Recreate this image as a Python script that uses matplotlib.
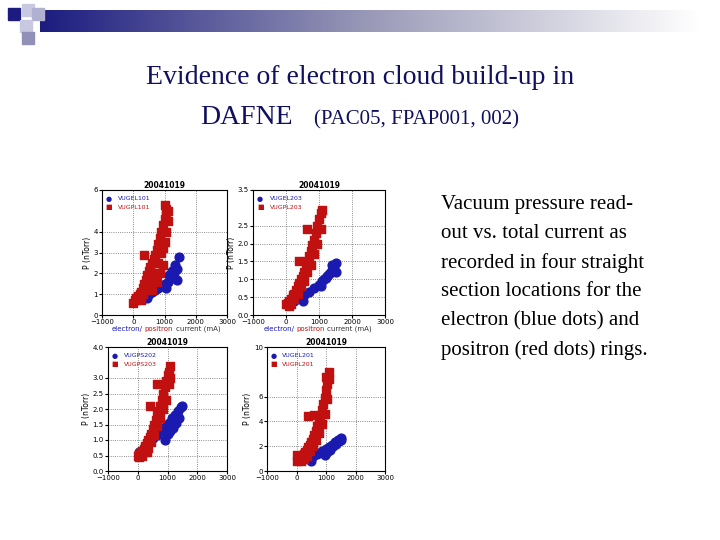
import numpy as np
import matplotlib.pyplot as plt
from matplotlib.patches import Rectangle

# hand-read point clouds (current mA, pressure nTorr)
tl_red_x = [0, 50, 100, 150, 200, 250, 300, 350, 400, 450, 500, 550, 600, 650, 700, 750, 800, 850, 900, 950, 1000, 1050, 1100,
            1050, 1000, 950, 900, 800, 700, 600, 500, 400, 300, 200, 100, 1000, 1050, 1100, 950, 850, 350, 600, 750, 250]
tl_red_y = [0.6, 0.7, 0.8, 0.9, 1.0, 1.1, 1.3, 1.5, 1.7, 1.9, 2.1, 2.3, 2.5, 2.7, 2.9, 3.1, 3.4, 3.7, 4.0, 4.3, 4.6, 4.9, 5.0,
            4.0, 3.5, 3.2, 3.0, 2.5, 2.0, 1.7, 1.5, 1.2, 1.0, 0.8, 0.7, 5.3, 5.1, 4.5, 2.4, 2.0, 2.9, 1.2, 1.6, 0.7]
tl_blue_x = [150, 300, 400, 500, 600, 700, 800, 900, 1000, 1100, 1200, 1300, 1400, 1450, 1350, 1250, 1150, 450, 1050, 1400]
tl_blue_y = [0.9, 0.9, 1.0, 1.0, 1.1, 1.2, 1.3, 1.4, 1.5, 1.6, 1.8, 2.0, 2.2, 2.8, 2.4, 2.1, 1.9, 0.8, 1.3, 1.7]

tr_red_x = [0, 50, 100, 150, 200, 250, 300, 350, 400, 450, 500, 550, 600, 650, 700, 750, 800, 850, 900, 950, 1000, 1050, 1100,
            1050, 950, 850, 750, 650, 550, 450, 350, 250, 150, 100, 650, 400, 200]
tr_red_y = [0.3, 0.35, 0.4, 0.45, 0.5, 0.6, 0.7, 0.8, 0.9, 1.0, 1.1, 1.2, 1.35, 1.5, 1.65, 1.8, 1.95, 2.1, 2.3, 2.5, 2.7, 2.85, 2.95,
            2.4, 2.0, 1.7, 1.4, 1.2, 0.95, 0.8, 0.6, 0.45, 0.3, 0.25, 2.4, 1.5, 0.55]
tr_blue_x = [100, 250, 400, 550, 700, 850, 1000, 1100, 1200, 1300, 1400, 1500, 1450, 1350, 1250, 1150, 1050, 500, 1500, 1400]
tr_blue_y = [0.35, 0.4, 0.5, 0.55, 0.65, 0.75, 0.85, 0.95, 1.05, 1.15, 1.25, 1.45, 1.3, 1.2, 1.1, 1.0, 0.8, 0.4, 1.2, 1.4]

bl_red_x = [0, 50, 100, 150, 200, 250, 300, 350, 400, 450, 500, 550, 600, 650, 700, 750, 800, 850, 900, 950, 1000, 1050, 1100,
            1050, 950, 850, 750, 650, 550, 450, 350, 250, 150, 50, 650, 400, 300, 1100]
bl_red_y = [0.5, 0.55, 0.6, 0.65, 0.7, 0.8, 0.9, 1.0, 1.1, 1.2, 1.35, 1.5, 1.65, 1.8, 1.95, 2.1, 2.3, 2.5, 2.7, 2.9, 3.1, 3.2, 3.4,
            2.8, 2.3, 2.0, 1.7, 1.45, 1.15, 0.95, 0.75, 0.6, 0.5, 0.45, 2.8, 2.1, 0.6, 3.0]
bl_blue_x = [50, 200, 350, 500, 650, 800, 950, 1050, 1150, 1250, 1350, 1450, 1500, 1400, 1300, 1200, 1100, 1000, 900, 300]
bl_blue_y = [0.6, 0.75, 0.9, 1.05, 1.15, 1.3, 1.45, 1.55, 1.7, 1.8, 1.95, 2.05, 2.1, 1.7, 1.55, 1.4, 1.3, 1.2, 1.0, 0.7]

br_red_x = [0, 50, 100, 150, 200, 250, 300, 350, 400, 450, 500, 550, 600, 650, 700, 750, 800, 850, 900, 950, 1000, 1050, 1100,
            1050, 950, 850, 750, 650, 550, 450, 350, 250, 150, 0, 400, 1100, 600, 1000]
br_red_y = [0.8, 0.9, 1.0, 1.1, 1.2, 1.35, 1.5, 1.7, 1.9, 2.1, 2.3, 2.6, 2.9, 3.2, 3.6, 4.0, 4.4, 4.9, 5.4, 5.9, 6.5, 7.0, 7.4,
            5.8, 4.6, 3.8, 3.1, 2.5, 2.0, 1.6, 1.2, 1.0, 0.8, 1.3, 4.4, 8.0, 4.5, 7.6]
br_blue_x = [100, 250, 400, 550, 700, 850, 1000, 1100, 1200, 1300, 1400, 1500, 1450, 1350, 1250, 1150, 1050, 950, 500, 1500]
br_blue_y = [0.9, 1.0, 1.1, 1.2, 1.4, 1.6, 1.8, 1.9, 2.1, 2.3, 2.5, 2.7, 2.4, 2.2, 2.0, 1.7, 1.5, 1.3, 0.8, 2.5]

panels = [
    ([102 / 720, 1 - 315 / 540, 125 / 720, 125 / 540], 6, [0, 1, 2, 3, 4, 6], ("VUGEL101", "VUGPL101"),
     tl_blue_x, tl_blue_y, tl_red_x, tl_red_y, True),
    ([253 / 720, 1 - 315 / 540, 132 / 720, 125 / 540], 3.5, [0, 0.5, 1, 1.5, 2, 2.5, 3.5], ("VUGEL203", "VUGPL203"),
     tr_blue_x, tr_blue_y, tr_red_x, tr_red_y, True),
    ([108 / 720, 1 - 471 / 540, 119 / 720, 124 / 540], 4, [0, 0.5, 1, 1.5, 2, 2.5, 3, 4], ("VUGPS202", "VUGPS203"),
     bl_blue_x, bl_blue_y, bl_red_x, bl_red_y, False),
    ([267 / 720, 1 - 471 / 540, 118 / 720, 124 / 540], 10, [0, 2, 4, 6, 10], ("VUGEL201", "VUGPL201"),
     br_blue_x, br_blue_y, br_red_x, br_red_y, False),
]

fig = plt.figure(figsize=(7.2, 5.4), dpi=100)

# header decoration
grad = np.linspace(0, 1, 256).reshape(1, -1)
hax = fig.add_axes([40 / 720, 1 - 32 / 540, 660 / 720, 22 / 540])
cmap = plt.matplotlib.colors.LinearSegmentedColormap.from_list("hdr", ["#1c1c80", "#9a9ab8", "#ffffff"])
hax.imshow(grad, aspect="auto", cmap=cmap)
hax.axis("off")
for (x, y, c) in [(8, 8, "#1c1c80"), (22, 4, "#c8c8e0"), (32, 8, "#b0b0d0"), (20, 20, "#c8c8e0"), (22, 32, "#9090b8")]:
    fig.patches.append(Rectangle((x / 720, 1 - (y + 12) / 540), 12 / 720, 12 / 540,
                                 transform=fig.transFigure, color=c, zorder=5))

fig.text(0.5, 1 - 78 / 540, "Evidence of electron cloud build-up in", ha="center", va="center",
         family="Liberation Serif", fontsize=20, color="#101060")
fig.text(200 / 720, 1 - 118 / 540, "DAFNE", ha="left", va="center", family="Liberation Serif", fontsize=20, color="#101060")
fig.text(314 / 720, 1 - 120 / 540, "(PAC05, FPAP001, 002)", ha="left", va="center", family="Liberation Serif",
         fontsize=15, color="#101060")

desc = ["Vacuum pressure read-", "out vs. total current as", "recorded in four straight",
        "section locations for the", "electron (blue dots) and", "positron (red dots) rings."]
for i, line in enumerate(desc):
    fig.text(441 / 720, 1 - (205 + i * 29) / 540, line, ha="left", va="center", family="Liberation Serif", fontsize=15)

for rect, ymax, yt, names, bx, by, rx, ry, xlab in panels:
    ax = fig.add_axes(rect)
    ax.scatter(bx, by, s=40, color="#1a1ab0", marker="o", zorder=3)
    ax.scatter(rx, ry, s=40, color="#c01010", marker="s", zorder=4)
    ax.set_xlim(-1000, 3000)
    ax.set_ylim(0, ymax)
    ax.set_xticks([-1000, 0, 1000, 2000, 3000])
    ax.set_yticks(yt)
    ax.tick_params(labelsize=5, length=2, pad=1)
    ax.grid(True, linestyle=":", color="#666666", linewidth=0.6)
    ax.set_title("20041019", fontsize=5.5, fontweight="bold", pad=1)
    ax.set_ylabel("P (nTorr)", fontsize=5.5, labelpad=1)
    ax.text(0.03, 0.93, "\u25cf", color="#1a1ab0", fontsize=5, transform=ax.transAxes, va="center")
    ax.text(0.13, 0.93, names[0], color="#1a1ab0", fontsize=4.5, transform=ax.transAxes, va="center")
    ax.text(0.03, 0.86, "\u25a0", color="#c01010", fontsize=5, transform=ax.transAxes, va="center")
    ax.text(0.13, 0.86, names[1], color="#c01010", fontsize=4.5, transform=ax.transAxes, va="center")
    if xlab:
        t1 = ax.text(0.08, -0.085, "electron/", color="#1a1ab0", fontsize=5, transform=ax.transAxes, va="top")
        t2 = ax.annotate("positron", xy=(1, 1), xycoords=t1, xytext=(1, 0), textcoords="offset points",
                         color="#c01010", fontsize=5, va="top")
        ax.annotate("current (mA)", xy=(1, 1), xycoords=t2, xytext=(2, 0), textcoords="offset points",
                    color="#333333", fontsize=5, va="top")

fig.savefig("out.png", dpi=100)
